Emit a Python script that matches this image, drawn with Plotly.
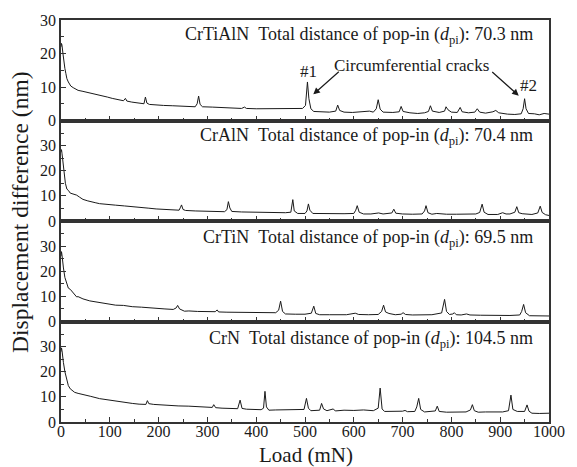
import plotly.graph_objects as go
from plotly.subplots import make_subplots

# ---------------- data ----------------
panel_names = ["CrTiAlN", "CrAlN", "CrTiN", "CrN"]
pop_in_totals = ["70.3", "70.4", "69.5", "104.5"]

crtialn_load = [0, 1, 2, 4, 6, 8, 10, 12, 15, 20, 25, 30, 35, 45, 55, 61, 70, 80, 95, 105, 115, 122, 128, 132, 135,
                145, 155, 165, 170, 173, 176, 181, 195, 210, 229, 245, 260, 275, 279, 282, 285, 290, 310, 329, 350,
                370, 376, 380, 400, 420, 440, 462, 480, 495, 501, 505, 508, 512, 518, 530, 550, 563, 567, 571, 580,
                597, 615, 625, 632, 640, 646, 650, 654, 660, 680, 693, 697, 701, 715, 731, 745, 753, 757, 761, 775,
                786, 789, 793, 800, 812, 818, 822, 835, 848, 853, 858, 870, 885, 891, 897, 915, 930, 943, 947, 950,
                953, 958, 970, 980, 990, 1000]
crtialn_disp = [22.0, 23.0, 22.5, 20.0, 17.0, 15.5, 14.0, 12.5, 11.5, 10.3, 9.8, 9.3, 9.0, 8.7, 8.4, 8.2, 7.9, 7.6,
                7.0, 6.6, 6.2, 6.0, 5.9, 6.6, 5.8, 5.5, 5.3, 5.1, 5.0, 7.0, 5.2, 4.8, 4.6, 4.5, 4.4, 4.3, 4.2, 4.1,
                5.0, 7.3, 4.8, 4.1, 4.0, 3.9, 3.7, 3.6, 4.0, 3.6, 3.5, 3.5, 3.4, 3.4, 3.5, 3.6, 4.5, 11.5, 6.5, 3.5,
                2.7, 2.6, 2.5, 2.8, 4.6, 3.0, 2.5, 2.4, 2.5, 2.6, 2.8, 2.5, 3.5, 6.2, 3.4, 2.5, 2.4, 2.6, 4.2, 2.7,
                2.3, 2.1, 2.3, 2.7, 4.4, 2.8, 2.4, 2.8, 4.1, 3.2, 2.5, 2.4, 3.9, 2.6, 2.3, 2.5, 3.5, 2.5, 2.2, 2.6,
                3.0, 2.3, 1.9, 1.8, 2.0, 3.5, 6.5, 3.5, 2.1, 2.0, 1.7, 2.1, 1.9]

craln_load = [0, 1, 2, 3, 5, 7, 9, 12, 15, 19, 25, 32, 38, 45, 55, 61, 70, 79, 95, 112, 130, 146, 162, 180, 195, 213,
              230, 242, 245, 247, 250, 255, 275, 296, 315, 335, 340, 343, 346, 350, 370, 396, 420, 440, 460, 471, 475,
              478, 485, 500, 504, 507, 510, 516, 540, 560, 580, 600, 604, 607, 611, 620, 635, 651, 660, 678, 682, 686,
              700, 720, 740, 745, 748, 752, 760, 770, 790, 810, 830, 850, 858, 863, 867, 875, 895, 905, 912, 920, 930,
              934, 938, 945, 965, 977, 982, 986, 993, 1000]
craln_disp = [27.5, 28.4, 27.0, 25.0, 21.8, 18.0, 15.0, 12.7, 12.2, 11.1, 10.8, 10.3, 9.5, 8.6, 8.0, 7.8, 7.3, 6.9,
              6.5, 6.3, 6.0, 5.8, 5.5, 5.1, 4.8, 4.6, 4.4, 4.3, 5.5, 6.4, 4.6, 4.2, 4.0, 3.9, 3.8, 3.7, 4.5, 7.7,
              5.2, 3.8, 3.6, 3.5, 3.4, 3.3, 3.3, 3.5, 8.5, 4.0, 3.0, 3.0, 4.0, 6.8, 4.3, 3.0, 2.9, 3.0, 2.9, 3.0,
              4.3, 6.1, 3.5, 2.8, 2.8, 3.2, 2.8, 3.2, 4.7, 3.1, 2.8, 2.7, 2.8, 4.0, 6.1, 3.3, 2.7, 3.0, 2.7, 2.7,
              2.7, 2.8, 3.4, 6.7, 3.5, 2.6, 2.6, 3.3, 2.8, 2.8, 3.5, 5.7, 3.3, 2.9, 2.6, 3.2, 5.9, 3.4, 2.5, 2.2]

crtin_load = [0, 1, 2, 3, 5, 8, 10, 12, 15, 19, 25, 32, 35, 45, 59, 70, 79, 95, 112, 128, 146, 165, 180, 195, 213,
              230, 236, 239, 243, 253, 262, 280, 300, 316, 320, 323, 340, 362, 380, 400, 420, 440, 446, 450, 454,
              460, 480, 500, 513, 518, 522, 530, 550, 570, 585, 603, 610, 630, 650, 657, 661, 665, 672, 685, 697,
              701, 706, 720, 740, 760, 780, 786, 790, 796, 803, 806, 810, 820, 831, 838, 860, 880, 900, 920, 940,
              944, 948, 952, 960, 980, 1000]
crtin_disp = [26.0, 27.8, 26.5, 24.5, 21.3, 17.5, 16.0, 14.8, 13.3, 12.8, 11.3, 9.8, 9.9, 9.0, 8.2, 7.9, 7.6, 7.0,
              6.5, 6.4, 5.9, 5.7, 5.4, 5.3, 5.0, 4.8, 5.4, 6.4, 5.0, 4.1, 4.2, 4.0, 3.9, 3.9, 4.6, 3.8, 3.7, 3.6,
              3.5, 3.5, 3.4, 3.5, 4.5, 8.1, 4.0, 3.0, 2.9, 2.9, 3.3, 6.1, 3.2, 2.7, 2.7, 2.8, 2.7, 3.3, 2.8, 2.7,
              2.8, 4.0, 6.5, 3.8, 3.2, 2.7, 2.9, 3.5, 2.8, 2.6, 2.6, 2.7, 3.4, 8.8, 4.0, 2.8, 3.0, 3.5, 2.7, 2.6,
              3.0, 2.6, 2.5, 2.4, 2.5, 2.4, 2.6, 4.0, 6.8, 3.5, 2.3, 2.2, 2.2]

crn_load = [0, 1, 2, 3, 5, 8, 10, 12, 15, 19, 25, 28, 35, 45, 61, 79, 95, 112, 128, 146, 160, 174, 177, 180, 190,
            213, 240, 262, 285, 300, 310, 313, 317, 330, 350, 362, 367, 371, 380, 395, 410, 415, 418, 421, 426, 440,
            460, 480, 498, 503, 507, 512, 530, 534, 538, 545, 558, 562, 580, 600, 620, 640, 650, 654, 658, 663, 680,
            700, 705, 710, 725, 729, 733, 737, 745, 767, 771, 775, 790, 810, 830, 839, 843, 847, 855, 870, 890, 905,
            917, 922, 926, 935, 950, 955, 959, 965, 980, 1000]
crn_disp = [28.0, 29.5, 28.5, 26.5, 23.6, 20.0, 18.5, 16.5, 14.5, 13.2, 12.3, 11.8, 11.4, 11.0, 10.2, 9.3, 8.8, 8.2,
            8.0, 7.4, 7.1, 7.0, 8.5, 7.3, 7.0, 6.6, 6.4, 6.3, 6.0, 5.8, 5.8, 6.9, 5.7, 5.5, 5.3, 5.3, 8.7, 5.4,
            5.1, 5.0, 4.9, 5.5, 12.2, 6.0, 4.7, 4.8, 4.9, 4.8, 5.0, 9.4, 5.5, 4.5, 4.7, 7.4, 5.2, 4.5, 5.2, 4.4,
            4.7, 4.6, 4.8, 4.5, 5.5, 13.5, 5.2, 4.2, 4.2, 4.3, 4.6, 4.1, 4.2, 6.0, 9.4, 5.0, 4.0, 4.4, 6.3, 4.2,
            3.9, 3.9, 4.0, 4.8, 6.9, 4.5, 3.9, 4.0, 4.1, 4.0, 4.5, 10.7, 5.0, 4.2, 4.2, 6.8, 4.3, 3.5, 3.4, 3.5]

x_tick_vals = [0, 100, 200, 300, 400, 500, 600, 700, 800, 900, 1000]
y_tick_vals = [0, 10, 20, 30]
y_ranges = [[0, 30], [0, 40], [0, 40], [0, 40]]

# ---------------- figure ----------------
FONT = "Liberation Serif, Times New Roman, Times, serif"
W, H = 577, 467
ML, MR, MT, MB = 61, 18, 16, 45
PW, PH = W - ML - MR, H - MT - MB

def px_to_paper(px, py):
    return (px - ML) / PW, (H - MB - py) / PH

fig = make_subplots(rows=4, cols=1, shared_xaxes=True, vertical_spacing=0)

series = [(crtialn_load, crtialn_disp), (craln_load, craln_disp),
          (crtin_load, crtin_disp), (crn_load, crn_disp)]
for i, (xs, ys) in enumerate(series):
    fig.add_trace(go.Scatter(x=xs, y=ys, mode="lines",
                             line=dict(color="#1a1a1a", width=1), showlegend=False,
                             hoverinfo="skip"), row=i + 1, col=1)

axis_common = dict(showline=True, linecolor="#333333", linewidth=1.5, mirror=True,
                   ticks="inside", tickcolor="#333333", ticklen=5, tickwidth=1,
                   showgrid=False, zeroline=False,
                   tickfont=dict(family=FONT, size=16, color="#1a1a1a"))

for i in range(4):
    fig.update_xaxes(range=[0, 1000], tickvals=x_tick_vals,
                     minor=dict(dtick=50, tick0=0, ticks="inside", ticklen=3, tickcolor="#333333"),
                     showticklabels=(i == 3), ticklabelstandoff=-6,
                     row=i + 1, col=1, **axis_common)
    fig.update_yaxes(range=y_ranges[i], tickvals=y_tick_vals,
                     minor=dict(dtick=5, tick0=0, ticks="inside", ticklen=3, tickcolor="#333333"),
                     row=i + 1, col=1, **axis_common)

annotations = []
# panel labels
label_y = [32, 134, 237, 339]
for i in range(4):
    xp, yp = px_to_paper(545, label_y[i])
    annotations.append(dict(
        xref="paper", yref="paper", x=xp, y=yp, xanchor="right", yanchor="middle",
        showarrow=False,
        text=f"{panel_names[i]}\u00a0\u00a0Total distance of pop-in (<i>d</i><sub>pi</sub>): {pop_in_totals[i]} nm",
        font=dict(family=FONT, size=18, color="#1a1a1a")))

# crack annotations
for txt, (px, py), size in [("Circumferential cracks", (419, 62), 17), ("#1", (314, 68), 17), ("#2", (538, 82), 17)]:
    xp, yp = px_to_paper(px, py)
    annotations.append(dict(xref="paper", yref="paper", x=xp, y=yp, xanchor="center", yanchor="middle",
                            showarrow=False, text=txt, font=dict(family=FONT, size=size, color="#1a1a1a")))

for tip_load, tip_val, ax, ay in [(517, 7.8, 27, -24), (938, 7.4, -28, -25)]:
    annotations.append(dict(xref="x", yref="y", x=tip_load, y=tip_val, ax=ax, ay=ay, text="",
                            showarrow=True, arrowhead=2, arrowsize=1.1, arrowwidth=1.2,
                            arrowcolor="#1a1a1a"))

# axis titles
xp, yp = px_to_paper(311, 455)
annotations.append(dict(xref="paper", yref="paper", x=xp, y=yp, xanchor="center", yanchor="middle",
                        showarrow=False, text="Load (mN)", font=dict(family=FONT, size=21, color="#1a1a1a")))
xp, yp = px_to_paper(19, 210)
annotations.append(dict(xref="paper", yref="paper", x=xp, y=yp, xanchor="center", yanchor="middle",
                        showarrow=False, textangle=-90, text="Displacement difference (nm)",
                        font=dict(family=FONT, size=23.5, color="#1a1a1a")))

fig.update_layout(width=W, height=H, margin=dict(l=ML, r=MR, t=MT, b=MB),
                  paper_bgcolor="white", plot_bgcolor="white",
                  annotations=annotations, showlegend=False)

fig.write_html("out.html")
